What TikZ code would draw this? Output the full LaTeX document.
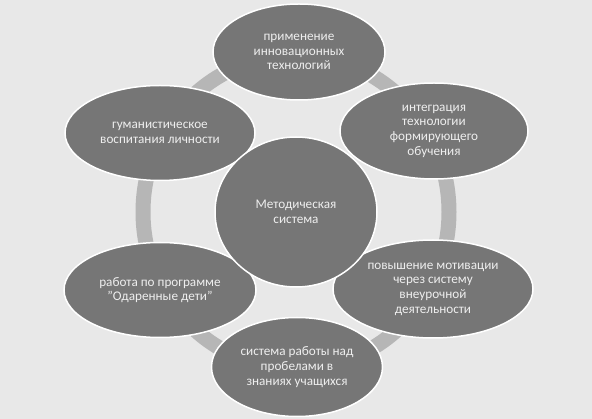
\documentclass[tikz,border=0pt]{standalone}
\usepackage{fontspec}
\setmainfont{Carlito}
\usetikzlibrary{positioning,shapes.geometric}
\definecolor{paper}{RGB}{232,232,232}
\definecolor{bubble}{RGB}{118,118,118}
\definecolor{hoop}{RGB}{182,182,182}
\definecolor{ink}{RGB}{238,238,238}
\pgfdeclarelayer{front}
\pgfsetlayers{main,front}
\tikzset{on grid, % Distances are measured between node centres
        topic/.style={ % Sets the properties for each outer ellipse
            ellipse,
            draw=white, line width=1.5pt,
            fill=bubble, text=ink,
            align=center, inner sep=0pt,
            font=\fontsize{13.2}{14.7}\selectfont},
        core/.style={ % The big one in the middle
            topic,
            minimum width=162pt, minimum height=150pt},
        ring/.style={ % Grey hoop behind the ellipses
            draw=hoop,
            line width=15pt}
        }

\begin{document}
\begin{tikzpicture}[x=1pt, y=-1pt]
    \fill[paper] (0,0) rectangle (592,419);

    \begin{pgfonlayer}{front}
        \node[core] (meth) at (296,212) {Методическая\\система};
    \end{pgfonlayer}
    \draw[ring] (meth.center) ellipse [x radius=153pt, y radius=157pt];

    \node[topic, minimum width=172pt, minimum height=96pt]  (tech)   [above=160pt of meth, xshift=3pt]    {применение\\инновационных\\технологий};
    \node[topic, minimum width=188pt, minimum height=96pt]  (integ)  [above right=81pt and 138pt of meth] {интеграция\\технологии\\формирующего\\обучения};
    \node[topic, minimum width=200pt, minimum height=98pt]  (motiv)  [below right=77pt and 137pt of meth] {повышение мотивации\\через систему\\внеурочной\\деятельности};
    \node[topic, minimum width=171pt, minimum height=99pt]  (gaps)   [below=155pt of meth, xshift=1pt]    {система работы над\\пробелами в\\знаниях учащихся};
    \node[topic, minimum width=192pt, minimum height=95pt]  (gifted) [below left=78pt and 136pt of meth]  {работа по программе\\"Одаренные дети"};
    \node[topic, minimum width=190pt, minimum height=95pt]  (human)  [above left=79pt and 136pt of meth]  {гуманистическое\\воспитания личности};
\end{tikzpicture}
\end{document}
